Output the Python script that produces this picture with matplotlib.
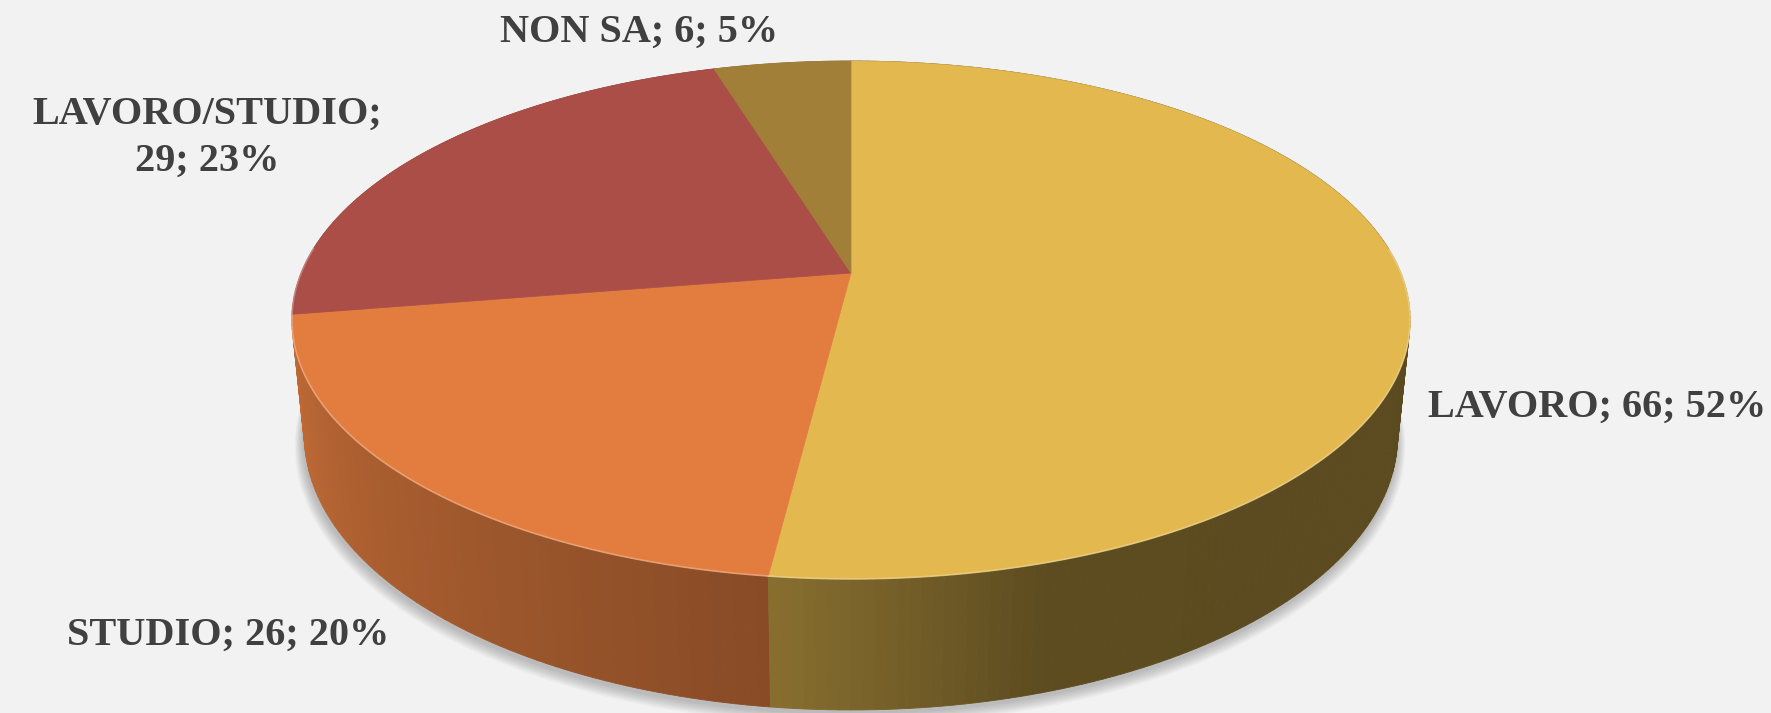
import matplotlib
matplotlib.use("Agg")
import matplotlib.pyplot as plt
from matplotlib.colors import to_rgb
import numpy as np

# data
labels = ["LAVORO", "STUDIO", "LAVORO/STUDIO", "NON SA"]
values = np.array([66, 26, 29, 6])
top_colors = ["#E3B94F", "#E27D3F", "#AA4E47", "#A27F39"]

# label text positions (px), ha
label_pos = {
    "LAVORO": (1428, 417, "left"),
    "STUDIO": (228, 645, "center"),
    "LAVORO/STUDIO": (207, 124, "center"),
    "NON SA": (639, 42, "center"),
}

# camera / perspective for the 3d look
cx, cy = 851, 273
f = 2699.0
D = 4.909
sin_a = 0.4555
cos_a = np.sqrt(1 - sin_a ** 2)
h = 0.239


def project(theta, r=1.0, z=0.0):
    X = r * np.sin(theta)
    Y = r * np.cos(theta)
    depth = D + Y * cos_a - z * sin_a
    vert = Y * sin_a + z * cos_a
    return cx + f * X / depth, cy - f * vert / depth


def shade(theta_deg):
    return np.interp(theta_deg, [0, 90, 163, 187, 230, 270, 360],
                     [0.40, 0.40, 0.41, 0.60, 0.75, 0.90, 0.90])


fig = plt.figure(figsize=(17.71, 7.13), dpi=100)
fig.patch.set_facecolor("#F2F2F2")
ax = fig.add_axes([0, 0, 1, 1])
ax.set_xlim(0, 1771)
ax.set_ylim(713, 0)
ax.axis("off")

fracs = values / values.sum()
edges = np.concatenate([[0], np.cumsum(fracs)]) * 2 * np.pi

# soft shadow, only from the bottom rim so it stays below the pie
t = np.linspace(0, 2 * np.pi, 361)
bx, by = project(t, 1.0, -h)
for k in range(10, 0, -1):
    sc = 1 + 0.0016 * k
    sx = cx + (bx - cx) * sc - 1
    sy = cy + (by - cy) * sc + 3 + 0.5 * k
    ax.fill(sx, sy, color="black", alpha=0.025, lw=0)

# outer walls, far segments first
segs = []
for i, lab in enumerate(labels):
    th = np.linspace(edges[i], edges[i + 1], max(4, int(np.degrees(edges[i + 1] - edges[i]))))
    for a0, a1 in zip(th[:-1], th[1:]):
        depth = D + np.cos((a0 + a1) / 2) * cos_a
        segs.append((depth, a0, a1, i))
segs.sort(key=lambda s: -s[0])
for depth, a0, a1, i in segs:
    x0t, y0t = project(a0)
    x1t, y1t = project(a1)
    x0b, y0b = project(a0, z=-h)
    x1b, y1b = project(a1, z=-h)
    c = np.clip(np.array(to_rgb(top_colors[i])) * shade(np.degrees((a0 + a1) / 2)), 0, 1)
    ax.fill([x0t, x1t, x1b, x0b], [y0t, y1t, y1b, y0b], color=c, lw=0.6, ec=c)

# top faces
for i, lab in enumerate(labels):
    th = np.linspace(edges[i], edges[i + 1], 200)
    xs, ys = project(th)
    ax.fill(np.r_[cx, xs], np.r_[cy, ys], color=top_colors[i], lw=0.5, ec=top_colors[i])
    # faint rim highlight on the front edge
    front = np.cos(th) < 0.1
    if front.any():
        rc = 0.6 * np.array(to_rgb(top_colors[i])) + 0.4
        ax.plot(xs[front], ys[front], color=rc, lw=1.2, alpha=0.7)

# labels
for i, lab in enumerate(labels):
    x, y, ha = label_pos[lab]
    pct = f"{fracs[i] * 100:.0f}%"
    kw = dict(fontsize=29, fontweight="bold", color="#404040",
              family=["Liberation Serif", "DejaVu Serif"], ha=ha, va="baseline")
    if lab == "LAVORO/STUDIO":
        ax.text(x, y, f"{lab};", **kw)
        ax.text(x, y + 47, f"{values[i]}; {pct}", **kw)
    else:
        ax.text(x, y, f"{lab}; {values[i]}; {pct}", **kw)

fig.savefig("out.png", dpi=100, facecolor=fig.get_facecolor())
